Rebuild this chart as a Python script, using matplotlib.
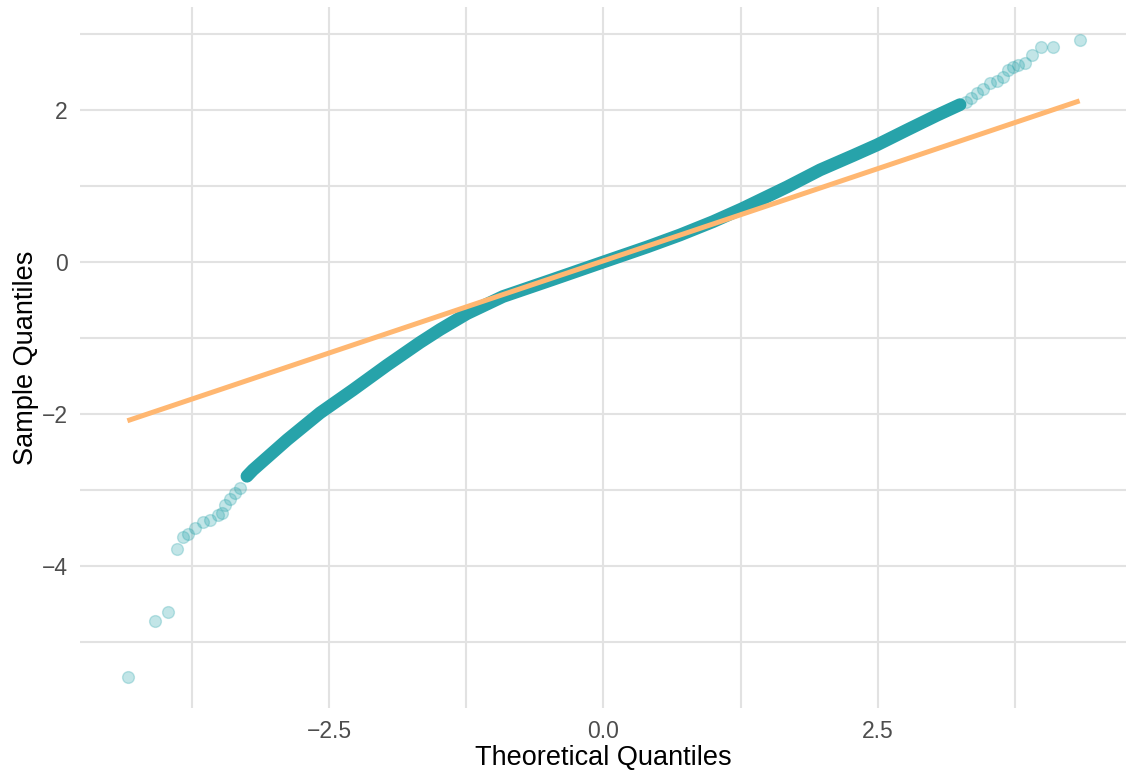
import numpy as np
import matplotlib
matplotlib.use('Agg')
import matplotlib.pyplot as plt

plt.rcParams['font.family'] = ['Liberation Sans', 'DejaVu Sans']

# dense part of the sample (theoretical vs sample quantiles)
band_theo = [-3.250, -3.195, -2.885, -2.584, -2.284, -1.974, -1.673, -1.490,
             -1.244, -0.916, -0.460, 0.000, 0.397, 0.697, 0.998, 1.262,
             1.673, 1.974, 2.275, 2.493, 2.767, 3.040, 3.250]
band_samp = [-2.820, -2.737, -2.342, -1.987, -1.684, -1.360, -1.060, -0.890,
             -0.680, -0.455, -0.230, 0.000, 0.197, 0.355, 0.530, 0.700,
             0.987, 1.211, 1.400, 1.540, 1.737, 1.930, 2.070]

# sparse tail points
tail_theo = [-4.335, -4.088, -3.970, -3.888, -3.833, -3.788, -3.724, -3.651,
             -3.587, -3.514, -3.478, -3.450, -3.405, -3.360, -3.314,
             3.300, 3.350, 3.404, 3.460, 3.523, 3.587, 3.642, 3.687, 3.733,
             3.779, 3.842, 3.906, 3.988, 4.098, 4.340]
tail_samp = [-5.461, -4.724, -4.605, -3.776, -3.618, -3.579, -3.500, -3.421,
             -3.395, -3.329, -3.303, -3.197, -3.118, -3.039, -2.974,
             2.110, 2.160, 2.224, 2.270, 2.355, 2.382, 2.434, 2.526, 2.566,
             2.592, 2.618, 2.724, 2.829, 2.829, 2.921]

# reference line end points
line_theo = [-4.34, 4.34]
line_samp = [-2.09, 2.12]

x_ticks = [-2.5, 0.0, 2.5]
x_tick_labels = ['\u22122.5', '0.0', '2.5']
x_minor = [-3.75, -1.25, 1.25, 3.75]
y_ticks = [-4, -2, 0, 2]
y_tick_labels = ['\u22124', '\u22122', '0', '2']
y_minor = [-5, -3, -1, 1, 3]

TEAL = '#27a3aa'
ORANGE = '#ffb771'
GRID = '#e2e2e2'

fig = plt.figure(figsize=(11.26, 7.73), dpi=100)
ax = fig.add_axes([80/1126, 65/773, 1046/1126, 701/773])

for v in x_ticks + x_minor:
    ax.axvline(v, color=GRID, lw=1.5, zorder=0)
for v in y_ticks + y_minor:
    ax.axhline(v, color=GRID, lw=1.5, zorder=0)

ax.plot(band_theo, band_samp, color=TEAL, lw=9.2, solid_capstyle='round',
        solid_joinstyle='round', zorder=2)
ax.scatter(tail_theo, tail_samp, s=72, color=TEAL, alpha=0.28,
           edgecolors=TEAL, linewidths=1.0, zorder=2)
ax.plot(line_theo, line_samp, color=ORANGE, lw=3.6, solid_capstyle='butt',
        zorder=3)

ax.set_xlim(-4.772, 4.763)
ax.set_ylim(-5.87, 3.355)
ax.set_xticks(x_ticks)
ax.set_xticklabels(x_tick_labels)
ax.set_yticks(y_ticks)
ax.set_yticklabels(y_tick_labels)
ax.tick_params(length=0, labelsize=16.5, labelcolor='#4d4d4d', pad=9)
for s in ax.spines.values():
    s.set_visible(False)

ax.set_xlabel('Theoretical Quantiles', fontsize=19.5, labelpad=1)
ax.set_ylabel('Sample Quantiles', fontsize=19.5, labelpad=2)

fig.savefig('out.png', dpi=100)
